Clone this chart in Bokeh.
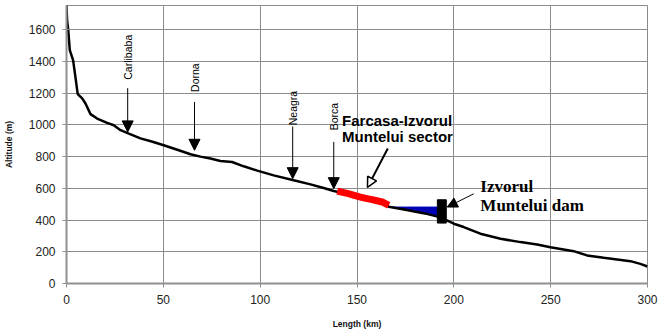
import numpy as np
from bokeh.plotting import figure
from bokeh.models import Label, Arrow, NormalHead, Range1d, FixedTicker
from bokeh.embed import file_html
from bokeh.resources import INLINE

# River longitudinal profile (km, m)
length_km = [0, 0.3, 0.9, 1.7, 3.4, 4.6, 5.8, 8.1, 9.8, 12.4, 15.8, 21, 24.4, 27.9, 32.2,
             38.2, 44, 50.2, 58, 64, 69.2, 74.3, 79.5, 85.5, 91.5, 98.5, 107, 117.3, 126,
             132.8, 138, 145, 151.8, 157.8, 163, 166.4, 175, 185, 192.2, 197, 200, 205.1,
             213.7, 224.1, 234.4, 243, 249.9, 261.9, 268.8, 277.4, 291.2, 296.3, 300]
altitude_m = [1756, 1661, 1598, 1472, 1409, 1303, 1194, 1167, 1135, 1068, 1040, 1013, 998, 967, 945,
              915, 895, 872, 840, 815, 800, 788, 773, 766, 739, 712, 682, 651, 625,
              602, 583, 565, 545, 529, 514, 484, 465, 442, 420, 395, 377, 356,
              314, 282, 261, 246, 229, 204, 177, 162, 141, 124, 107]

# Farcasa-Izvorul Muntelui sector (red)
sector_km = [139.8, 145, 151.8, 155.2, 157.8, 163, 166.4]
sector_m = [583, 568, 545, 535, 529, 514, 493]

# Reservoir (blue) and dam
reservoir_level_m = 482
reservoir_km = [166.4, 175, 185, 191.5]
dam_km = 193.8
dam_width_km = 4.6
dam_bottom_m = 381
dam_top_m = 528

# Localities: name, km, label bottom (m), arrow start (m), arrow tip (m)
place_names = ["Carlibaba", "Dorna", "Neagra", "Borca"]
place_km = [31.6, 66.1, 116.8, 138]
place_label_m = [1285, 1208, 998, 966]
place_arrow_top_m = [1232, 1145, 990, 893]
place_arrow_tip_m = [956, 840, 661, 598]

x_ticks = [0, 50, 100, 150, 200, 250, 300]
y_ticks = [0, 200, 400, 600, 800, 1000, 1200, 1400, 1600]
x_title = "Length (km)"
y_title = "Altitude (m)"

p = figure(width=658, height=334, output_backend="svg", toolbar_location=None,
           x_range=Range1d(0, 300), y_range=Range1d(0, 1753),
           min_border_left=66, min_border_right=11, min_border_top=5, min_border_bottom=51)

grid_col = "#8c8c8c"
p.xgrid.ticker = FixedTicker(ticks=x_ticks)
p.ygrid.ticker = FixedTicker(ticks=y_ticks)
p.xgrid.grid_line_color = grid_col
p.ygrid.grid_line_color = grid_col
p.outline_line_color = grid_col

for ax in (p.xaxis[0], p.yaxis[0]):
    ax.axis_line_color = "#909090"
    ax.axis_line_width = 2
    ax.major_tick_line_color = "#909090"
    ax.major_tick_out = 4
    ax.major_tick_in = 3
    ax.minor_tick_line_color = None
    ax.major_label_text_font = "Liberation Sans"
    ax.major_label_text_font_size = "12px"
    ax.major_label_text_color = "#222222"
    ax.axis_label_text_font = "Liberation Sans"
    ax.axis_label_text_font_size = "8.5px"
    ax.axis_label_text_font_style = "bold"
    ax.axis_label_text_color = "#111111"

p.xaxis.ticker = FixedTicker(ticks=x_ticks)
p.yaxis.ticker = FixedTicker(ticks=y_ticks)
p.xaxis.axis_label = x_title
p.yaxis.axis_label = y_title
p.xaxis.major_label_standoff = 7
p.xaxis.axis_label_standoff = 12
p.yaxis.major_label_standoff = 7
p.yaxis.axis_label_standoff = 12

# reservoir polygon: flat level on top, riverbed underneath
res_bottom = np.interp(reservoir_km, length_km, altitude_m)
res_x = list(reservoir_km) + list(reservoir_km[::-1])
res_y = [reservoir_level_m] * len(reservoir_km) + list(res_bottom[::-1])
p.patch(res_x, res_y, fill_color="#0000b4", line_color="#0000b4", line_width=1)

p.line(length_km, altitude_m, line_color="black", line_width=2.5)
p.line(sector_km, sector_m, line_color="#ff0000", line_width=7)

p.quad(left=[dam_km - dam_width_km / 2], right=[dam_km + dam_width_km / 2],
       bottom=[dam_bottom_m], top=[dam_top_m], fill_color="black", line_color="black")

for name, xk, lm, at, tip in zip(place_names, place_km, place_label_m,
                                 place_arrow_top_m, place_arrow_tip_m):
    p.add_layout(Label(x=xk, y=lm, text=name, angle=np.pi / 2, text_align="left",
                       text_baseline="middle", text_font="Liberation Sans",
                       text_font_size="10.5px", text_color="black"))
    p.add_layout(Arrow(x_start=xk, y_start=at, x_end=xk, y_end=tip, line_width=1,
                       line_color="black",
                       end=NormalHead(size=11, fill_color="black", line_color="black")))

p.add_layout(Label(x=142.3, y=1030, text="Farcasa-Izvorul", text_font="Liberation Sans",
                   text_font_size="15px", text_font_style="bold", text_color="black",
                   text_baseline="alphabetic"))
p.add_layout(Label(x=142.3, y=924, text="Muntelui sector", text_font="Liberation Sans",
                   text_font_size="15px", text_font_style="bold", text_color="black",
                   text_baseline="alphabetic"))
p.add_layout(Arrow(x_start=165.9, y_start=851, x_end=155.4, y_end=606, line_width=2,
                   line_color="black",
                   end=NormalHead(size=10, fill_color="white", line_color="black", line_width=1.5)))

p.add_layout(Label(x=213.7, y=613, text="Izvorul", text_font="Liberation Serif",
                   text_font_size="17px", text_font_style="bold", text_color="black",
                   text_baseline="alphabetic"))
p.add_layout(Label(x=213.7, y=493, text="Muntelui dam", text_font="Liberation Serif",
                   text_font_size="17px", text_font_style="bold", text_color="black",
                   text_baseline="alphabetic"))
p.add_layout(Arrow(x_start=210.3, y_start=566, x_end=196.6, y_end=482, line_width=1,
                   line_color="black",
                   end=NormalHead(size=10, fill_color="black", line_color="black")))

open("out.html", "w").write(file_html(p, INLINE))
